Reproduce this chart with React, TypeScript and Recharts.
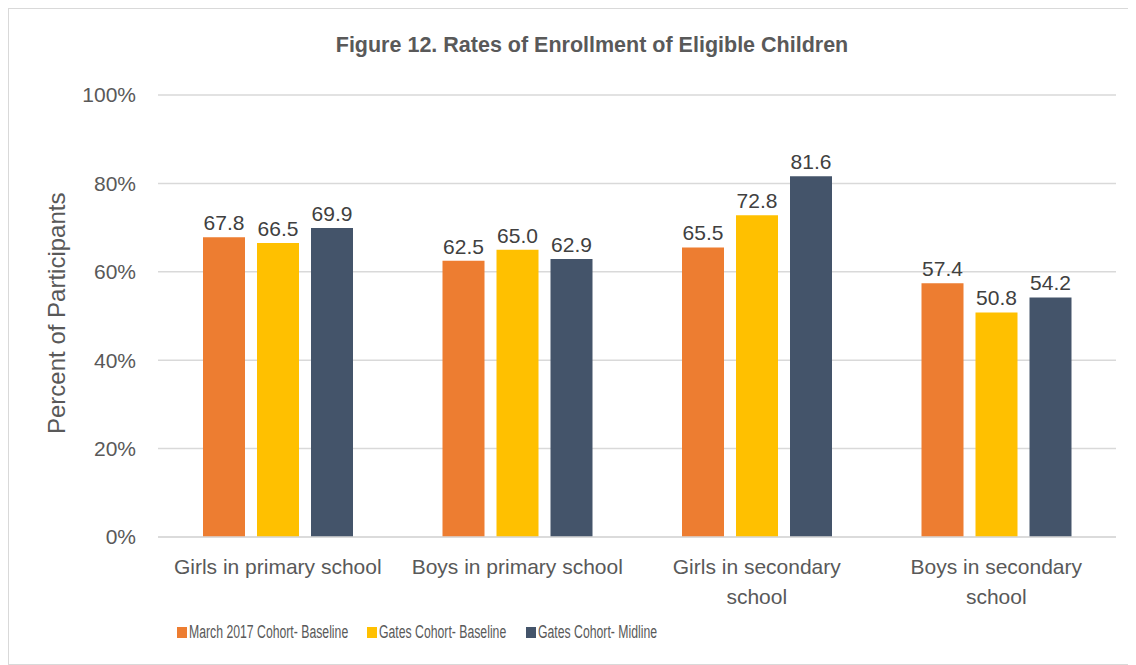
import { BarChart, Bar, XAxis, YAxis, CartesianGrid, LabelList, Legend } from 'recharts';

// Categories and series values
const categories = [
    'Girls in primary school',
    'Boys in primary school',
    'Girls in secondary school',
    'Boys in secondary school',
];
const march2017Baseline = [67.8, 62.5, 65.5, 57.4];
const gatesBaseline = [66.5, 65.0, 72.8, 50.8];
const gatesMidline = [69.9, 62.9, 81.6, 54.2];
const yTicks = [0, 20, 40, 60, 80, 100];

const SERIES = [
    { key: 'march', label: 'March 2017 Cohort- Baseline', color: '#ED7D31' },
    { key: 'gatesBase', label: 'Gates Cohort- Baseline', color: '#FFC000' },
    { key: 'gatesMid', label: 'Gates Cohort- Midline', color: '#44546A' },
];

const data = categories.map((name, i) => ({
    name,
    march: march2017Baseline[i],
    gatesBase: gatesBaseline[i],
    gatesMid: gatesMidline[i],
}));

const FONT = '"Liberation Sans", Arial, sans-serif';
const TEXT = '#595959';

// wraps long category names onto two lines, like the original
function wrap(label: string, max = 23): string[] {
    if (label.length <= max) return [label];
    const words = label.split(' ');
    const lines: string[] = [];
    let cur = '';
    for (const w of words) {
        const next = cur ? `${cur} ${w}` : w;
        if (next.length > max - 5 && cur) {
            lines.push(cur);
            cur = w;
        } else {
            cur = next;
        }
    }
    if (cur) lines.push(cur);
    return lines;
}

function CategoryTick({ x, y, payload }: any) {
    const lines = wrap(payload.value);
    return (
        <text x={x} y={y} textAnchor="middle" fill={TEXT} fontSize={21} fontFamily={FONT}>
            {lines.map((l, i) => (
                <tspan key={i} x={x} dy={i === 0 ? 29 : 30}>
                    {l}
                </tspan>
            ))}
        </text>
    );
}

// legend text in the original is a condensed face, so squeeze it horizontally
function LegendContent() {
    return (
        <div
            style={{
                display: 'flex',
                paddingLeft: 168,
                fontFamily: FONT,
                fontSize: 18,
                lineHeight: '20px',
                color: TEXT,
                whiteSpace: 'nowrap',
            }}
        >
            {SERIES.map((s, i) => (
                <div
                    key={s.key}
                    style={{ display: 'flex', alignItems: 'center', flexShrink: 0, width: i === 0 ? 190 : 159 }}
                >
                    <div
                        style={{ width: 10, height: 11, flexShrink: 0, backgroundColor: s.color, marginRight: 2 }}
                    />
                    <span style={{ display: 'inline-block', transform: 'scaleX(0.68)', transformOrigin: 'left center' }}>
                        {s.label}
                    </span>
                </div>
            ))}
        </div>
    );
}

export default function App() {
    return (
        <div
            style={{
                position: 'relative',
                width: 1126,
                height: 655,
                border: '1px solid #d9d9d9',
                background: '#fff',
            }}
        >
            <div
                style={{
                    position: 'absolute',
                    top: 24,
                    left: 0,
                    width: 1166,
                    textAlign: 'center',
                    fontFamily: FONT,
                    fontWeight: 700,
                    fontSize: 21.5,
                    color: TEXT,
                }}
            >
                Figure 12. Rates of Enrollment of Eligible Children
            </div>
            <BarChart
                width={1126}
                height={655}
                data={data}
                margin={{ top: 86, right: 19, left: 0, bottom: 15 }}
                barSize={42}
                barGap={12}
            >
                <CartesianGrid vertical={false} stroke="#d9d9d9" strokeWidth={1.5} />
                <XAxis
                    dataKey="name"
                    axisLine={{ stroke: '#d9d9d9', strokeWidth: 1.5 }}
                    tickLine={false}
                    tick={<CategoryTick />}
                    height={92}
                    interval={0}
                />
                <YAxis
                    domain={[0, 100]}
                    ticks={yTicks}
                    tickFormatter={(v: number) => `${v}%`}
                    axisLine={false}
                    tickLine={false}
                    tickSize={0}
                    tickMargin={22}
                    width={149}
                    tick={{ fill: TEXT, fontSize: 21, fontFamily: FONT }}
                    label={{
                        value: 'Percent of Participants',
                        angle: -90,
                        position: 'insideLeft',
                        dx: 42,
                        dy: 118,
                        style: { fill: TEXT, fontSize: 24, fontFamily: FONT },
                    }}
                />
                <Legend verticalAlign="bottom" content={<LegendContent />} wrapperStyle={{ bottom: 22 }} />
                {SERIES.map((s) => (
                    <Bar key={s.key} dataKey={s.key} name={s.label} fill={s.color} isAnimationActive={false}>
                        <LabelList
                            dataKey={s.key}
                            position="top"
                            offset={7}
                            formatter={(v: any) => Number(v).toFixed(1)}
                            style={{ fill: '#404040', fontSize: 21, fontFamily: FONT }}
                        />
                    </Bar>
                ))}
            </BarChart>
        </div>
    );
}
